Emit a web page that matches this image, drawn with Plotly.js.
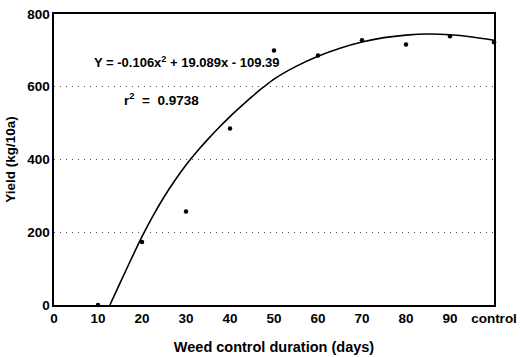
<!DOCTYPE html>
<html>
<head>
<meta charset="utf-8">
<script src="https://cdn.plot.ly/plotly-3.0.1.min.js"></script>
<style>html,body{margin:0;padding:0;background:#fff}#chart{width:520px;height:357px}</style>
</head>
<body>
<div id="chart"></div>
<script>
// Observed yields (kg/10a) by weed control duration (days); 100 = control
const pointX = [10, 20, 30, 40, 50, 60, 70, 80, 90, 100];
const pointY = [0, 173, 257, 485, 700, 686, 728, 716, 739, 722];

// Fitted curve as drawn in the figure
const curveX = [12.7, 15, 17.5, 20, 22.5, 25, 27.5, 30, 32.5, 35, 37.5, 40, 42.5, 45, 47.5, 50, 55, 60, 65, 70, 75, 80, 85, 90, 95, 100];
const curveY = [0, 60, 125, 188, 245, 297, 343, 385, 422, 456, 488, 518, 546, 573, 598, 621, 656, 684, 706, 723, 735, 742, 745, 743, 737, 728];

const xTickVals = [0, 10, 20, 30, 40, 50, 60, 70, 80, 90, 100];
const xTickText = ['0', '10', '20', '30', '40', '50', '60', '70', '80', '90', 'control'];
const yTickVals = [0, 200, 400, 600, 800];

const equationText = 'Y = -0.106x<sup>2</sup> + 19.089x - 109.39';
const r2Text = 'r<sup>2</sup>\u00a0 = \u00a00.9738';

const FONT = 'Liberation Sans, Arial, sans-serif';

const traces = [
  {
    x: curveX, y: curveY, type: 'scatter', mode: 'lines',
    line: {color: '#000', width: 1.6, shape: 'spline', smoothing: 0.8},
    hoverinfo: 'skip', showlegend: false, cliponaxis: false
  },
  {
    x: pointX, y: pointY, type: 'scatter', mode: 'markers',
    marker: {color: '#000', size: 4.5},
    showlegend: false, cliponaxis: false
  }
];

const layout = {
  width: 520, height: 357,
  margin: {l: 54, r: 26, t: 14, b: 52},
  paper_bgcolor: '#fff', plot_bgcolor: '#fff',
  font: {family: FONT, size: 13, color: '#000', weight: 'bold'},
  showlegend: false,
  xaxis: {
    range: [0, 100], tickvals: xTickVals, ticktext: xTickText,
    showgrid: false, zeroline: false, showline: true, mirror: true,
    linecolor: '#000', linewidth: 1.6, ticks: '', ticklen: 0,
    tickfont: {family: FONT, size: 13.5, color: '#000', weight: 'bold'},
    automargin: false,
    title: {text: 'Weed control duration (days)', font: {family: FONT, size: 14.5, color: '#000', weight: 'bold'}, standoff: 17}
  },
  yaxis: {
    range: [0, 800], tickvals: yTickVals,
    showgrid: true, gridcolor: '#555', griddash: '1px,5px', gridwidth: 1,
    zeroline: false, showline: true, mirror: true,
    linecolor: '#000', linewidth: 1.6, ticks: '', ticklen: 0,
    tickfont: {family: FONT, size: 13.5, color: '#000', weight: 'bold'},
    automargin: false,
    title: {text: 'Yield (kg/10a)', font: {family: FONT, size: 13.5, color: '#000', weight: 'bold'}, standoff: 8}
  },
  annotations: [
    {x: 8.6, y: 669, xref: 'x', yref: 'y', xanchor: 'left', yanchor: 'middle',
     text: equationText, showarrow: false, font: {family: FONT, size: 13, color: '#000', weight: 'bold'}},
    {x: 15.4, y: 565, xref: 'x', yref: 'y', xanchor: 'left', yanchor: 'middle',
     text: r2Text, showarrow: false, font: {family: FONT, size: 13.5, color: '#000', weight: 'bold'}}
  ]
};

Plotly.newPlot('chart', traces, layout, {displayModeBar: false, staticPlot: true});
</script>
</body>
</html>
